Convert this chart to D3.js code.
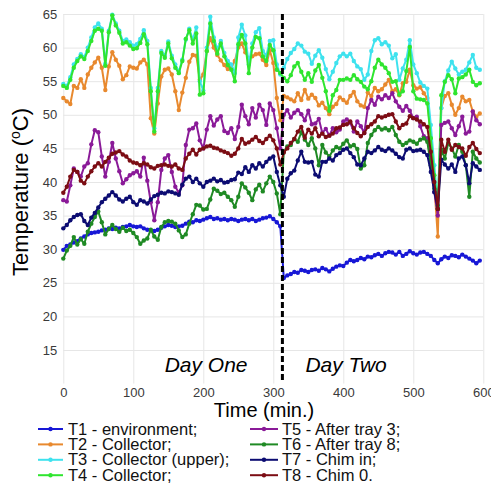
<!DOCTYPE html>
<html>
<head>
<meta charset="utf-8">
<script src="https://cdn.jsdelivr.net/npm/d3@7"></script>
<style>
  html, body { margin: 0; padding: 0; background: #fff; }
  svg { display: block; font-family: "Liberation Sans", Arial, sans-serif; }
</style>
</head>
<body>
<div id="chart"></div>
<script>
// time in minutes (day one 0-310, day two 315-595)
var timeMin = [
  0,5,10,15,20,25,30,35,40,45,50,55,60,65,70,75,80,85,90,95,
  100,105,110,115,120,125,130,135,140,145,150,155,160,165,170,175,180,185,190,195,
  200,205,210,215,220,225,230,235,240,245,250,255,260,265,270,275,280,285,290,295,
  300,305,310,
  315,320,325,330,335,340,345,350,355,360,365,370,375,380,385,390,395,
  400,405,410,415,420,425,430,435,440,445,450,455,460,465,470,475,480,485,490,495,
  500,505,510,515,520,525,530,535,540,545,550,555,560,565,570,575,580,585,590,595
];

var t1 = [
  29.9,30.5,30.7,31.0,31.2,31.6,31.9,32.2,32.4,32.5,32.6,32.8,32.9,33.1,33.0,33.2,33.1,33.3,33.4,33.6,
  33.4,33.3,33.4,33.1,32.9,32.8,32.7,32.9,33.2,33.4,33.6,33.5,33.3,33.4,33.5,33.8,34.1,34.0,34.3,34.2,
  34.4,34.6,34.8,34.5,34.6,34.4,34.5,34.3,34.5,34.4,34.2,34.4,34.5,34.3,34.5,34.2,34.4,34.6,34.7,34.9,
  34.5,34.0,33.4,
  25.7,26.1,26.3,26.6,26.5,26.9,26.8,26.6,26.9,27.0,26.8,27.2,27.0,26.7,27.1,27.4,27.6,27.5,28.0,28.4,
  28.2,28.4,28.7,28.5,28.9,28.8,29.1,29.3,29.0,29.4,29.6,29.5,29.2,29.6,29.0,29.3,29.7,29.4,29.2,29.5,
  29.6,29.3,29.0,28.4,27.9,28.5,28.9,28.7,29.1,29.0,28.8,29.2,28.9,28.6,28.3,27.9,28.3
];
var t2 = [
  52.5,52.0,51.6,54.3,54.0,55.3,54.0,56.0,57.0,57.8,58.5,57.0,53.7,57.2,59.3,58.2,57.3,55.3,55.9,57.2,
  57.0,56.9,57.8,58.2,57.5,49.5,47.2,51.7,55.7,56.7,56.9,56.0,53.5,50.7,53.3,55.5,57.9,58.9,58.8,55.2,
  56.0,59.5,61.4,60.0,58.9,58.1,57.4,56.8,57.0,58.0,60.0,60.6,59.3,58.4,58.7,59.0,59.1,58.2,57.4,59.6,
  57.7,52.5,49.2,
  52.8,52.6,52.3,52.0,53.2,52.2,53.7,52.4,53.0,52.5,51.4,51.8,51.0,50.1,51.2,51.6,52.6,52.2,51.8,52.8,
  53.4,52.0,51.4,51.2,53.3,52.8,54.0,53.5,53.8,54.5,55.2,53.5,53.8,52.9,54.7,54.9,56.7,54.4,53.9,54.1,
  53.2,52.5,46.5,39.5,31.9,51.0,52.8,53.2,51.5,50.0,51.0,52.7,52.0,52.2,50.5,49.7,50.2
];
var t3 = [
  54.6,54.3,55.6,57.5,58.3,59.0,58.6,60.0,61.5,63.0,63.6,62.8,57.6,62.5,64.9,63.6,62.5,61.0,61.2,60.8,
  60.3,60.5,61.3,62.6,61.0,54.0,48.0,54.0,59.5,58.8,60.9,58.8,57.5,56.4,58.2,61.2,62.8,61.2,63.0,55.0,
  53.6,60.0,64.6,61.5,59.8,61.0,59.2,58.0,57.5,56.2,61.5,63.4,61.8,57.5,60.6,62.3,62.9,59.5,58.8,61.0,
  61.1,57.5,56.0,
  57.0,58.3,59.2,59.8,60.6,60.3,59.4,59.1,57.6,58.8,59.6,58.5,56.8,55.3,56.4,57.7,58.7,59.1,58.7,59.1,
  58.0,57.2,56.8,55.2,56.0,59.5,61.1,61.4,60.5,60.8,60.3,58.4,59.0,55.2,56.9,58.2,61.1,57.5,56.2,54.8,
  54.3,53.9,48.5,42.5,36.5,51.0,55.0,56.6,57.9,56.9,56.0,56.4,56.7,57.8,58.9,57.0,56.7
];
var t4 = [
  54.3,54.0,55.2,57.0,58.0,58.7,58.3,59.5,61.0,62.5,62.8,62.5,57.3,62.3,64.8,63.3,62.2,60.6,60.8,60.3,
  59.8,59.9,60.7,62.0,60.5,53.5,47.5,53.5,59.2,58.5,60.6,58.4,57.0,56.2,58.0,61.3,62.6,60.6,62.1,53.0,
  53.2,59.5,63.6,61.0,59.1,60.6,58.7,57.4,56.7,55.0,60.5,61.9,60.6,56.2,60.0,61.6,61.4,58.7,58.0,60.4,
  59.6,56.7,56.2,
  55.5,55.0,55.9,57.2,57.7,56.4,55.2,56.2,54.9,56.6,57.4,55.5,53.5,50.6,52.9,53.7,55.2,55.2,55.4,55.2,
  55.9,55.3,54.9,54.2,53.8,55.0,57.0,58.2,57.5,57.0,56.2,54.9,55.0,53.0,53.5,56.5,60.1,53.5,52.4,52.3,
  52.2,51.7,46.5,41.0,36.0,52.9,54.9,55.9,55.3,53.2,55.4,55.6,56.0,56.7,54.9,54.4,54.7
];
var t5 = [
  37.3,37.1,39.5,42.0,41.5,40.8,42.3,42.8,45.6,47.7,47.4,43.8,40.8,43.0,45.8,43.5,41.6,39.8,40.4,41.0,
  41.3,41.6,40.8,43.6,40.2,37.0,34.3,37.0,41.8,43.5,44.0,41.5,39.3,38.4,39.5,45.5,47.8,48.0,48.7,46.2,
  45.0,47.8,49.8,48.4,49.3,49.8,47.6,47.3,48.0,46.4,48.2,51.5,49.8,48.6,51.0,49.6,51.5,50.7,48.5,51.7,
  50.7,48.0,45.0,
  50.0,50.7,49.6,50.3,50.7,50.1,49.2,50.6,48.6,48.7,49.4,47.3,47.9,46.9,48.0,47.4,47.8,49.0,49.3,48.8,
  47.5,49.0,48.3,47.3,51.0,52.2,51.5,52.7,52.3,52.9,52.5,53.2,52.0,51.2,50.6,51.3,50.6,49.5,49.7,48.3,
  46.8,46.5,43.0,38.5,35.0,48.5,48.8,49.0,48.0,47.0,48.3,49.7,47.2,47.5,50.5,49.2,48.6
];
var t6 = [
  28.6,29.8,30.5,31.8,30.7,31.5,30.8,32.6,33.8,34.8,35.6,34.0,32.2,33.0,33.6,33.0,32.6,33.2,32.7,32.9,
  32.4,31.8,30.8,31.3,31.6,32.9,31.9,31.4,33.3,34.0,34.2,34.1,33.8,32.8,31.8,32.2,33.8,35.2,36.6,36.5,
  35.9,36.0,37.4,39.0,38.7,38.2,38.4,37.8,37.3,36.3,37.8,39.8,39.2,38.4,37.3,38.9,39.6,38.6,39.8,40.8,
  40.0,38.3,35.2,
  44.5,45.3,45.5,46.4,46.0,47.4,46.3,45.5,46.5,45.0,42.5,45.5,44.4,43.8,44.7,45.2,45.0,45.7,46.2,45.3,
  45.5,44.9,42.0,42.5,45.8,47.0,47.7,48.2,47.8,48.0,47.7,48.2,47.0,46.0,45.5,45.8,46.2,46.0,45.7,46.3,
  46.5,46.0,42.5,39.0,36.5,44.8,43.5,45.8,45.0,43.8,45.5,44.5,42.5,37.8,44.5,43.5,42.9
];
var t7 = [
  33.1,33.6,34.3,34.8,35.1,35.2,34.2,33.6,34.7,35.4,36.2,37.0,37.5,38.0,38.5,38.0,37.4,37.1,37.5,37.8,
  37.0,36.6,37.3,37.1,36.8,37.4,37.9,38.1,38.4,38.3,38.6,38.5,38.3,38.1,39.6,40.5,40.8,40.0,40.5,39.8,
  39.3,40.0,40.2,40.5,40.1,40.3,39.9,40.0,40.3,40.4,41.4,41.2,42.2,41.5,42.5,42.0,42.8,42.3,43.0,43.5,
  43.8,41.5,39.5,
  37.8,40.5,41.3,41.7,43.2,44.5,43.0,42.9,43.0,41.1,40.8,43.0,43.0,43.5,43.2,44.0,44.3,44.8,45.0,44.3,
  43.7,42.6,42.5,43.5,44.5,44.3,44.7,45.2,44.8,44.6,45.0,44.7,44.2,43.7,43.5,44.8,45.0,44.6,44.7,44.8,
  44.5,44.0,41.5,38.5,36.0,43.3,42.6,42.0,42.6,41.5,43.5,43.8,42.5,39.8,42.8,42.3,41.8
];
var t8 = [
  38.4,39.3,40.8,41.8,41.5,40.2,39.8,40.8,41.6,42.3,42.8,42.3,43.0,43.6,44.2,44.4,44.6,44.1,43.8,43.2,
  42.9,42.8,42.5,42.8,42.6,42.2,42.0,42.4,42.5,42.6,42.4,42.3,42.6,42.0,41.8,43.5,44.2,44.8,44.1,44.8,
  45.0,45.3,45.4,45.1,45.0,44.7,44.5,44.3,43.9,44.2,45.0,46.4,45.7,45.9,46.3,46.7,46.1,45.8,46.4,46.9,
  46.2,45.0,42.6,
  44.4,45.0,45.8,46.4,47.5,48.2,46.6,47.8,47.2,48.0,46.8,47.2,46.7,46.9,47.2,48.0,48.1,48.5,48.6,49.0,
  48.0,47.3,46.8,47.3,48.2,48.6,49.0,49.8,49.6,49.8,50.0,50.1,49.0,48.0,48.5,48.7,49.8,49.5,49.3,49.0,
  48.6,48.2,44.5,40.0,36.0,46.3,44.5,46.3,44.8,45.5,45.2,45.0,43.9,45.2,45.8,44.9,44.3
];

var seriesNames = [
  "T1 - environment;", "T2 - Collector;", "T3 - Collector (upper);", "T4 - Collector;",
  "T5 - After tray 3;", "T6 - After tray 8;", "T7 - Chim in;", "T8 - Chim 0."
];
var seriesValues = [t1, t2, t3, t4, t5, t6, t7, t8];
var seriesColors = ["#1717d6", "#e8892e", "#3ee2ee", "#2fe52f", "#8a1a98", "#1f8a24", "#0c0c72", "#7c0d14"];

var xTicks = [0, 100, 200, 300, 400, 500, 600];
var yTicks = [15, 20, 25, 30, 35, 40, 45, 50, 55, 60, 65];
var dayBreak = 313;
var dayLabels = [{ text: "Day One", t: 204 }, { text: "Day Two", t: 404 }];

var W = 491, H = 486;
var plotL = 63.3, plotR = 483.3, plotT = 14, plotB = 383.6;

var svg = d3.select("#chart").append("svg")
    .attr("width", W)
    .attr("height", H);

var x = d3.scaleLinear().domain([0, 600]).range([plotL, plotR]);
var y = d3.scaleLinear().domain([10, 65]).range([plotB, plotT]);

// grid + tick labels
var yAxis = svg.append("g")
    .attr("transform", "translate(" + plotL + ",0)")
    .call(d3.axisLeft(y).tickValues(yTicks).tickSize(-(plotR - plotL)).tickPadding(6));
var xAxis = svg.append("g")
    .attr("transform", "translate(0," + plotB + ")")
    .call(d3.axisBottom(x).tickValues(xTicks).tickSize(-(plotB - plotT)).tickPadding(4));

[xAxis, yAxis].forEach(function(a) {
  a.select(".domain").remove();
  a.selectAll(".tick line").attr("stroke", "#e6e6e6").attr("stroke-width", 1);
  a.selectAll(".tick text")
    .attr("fill", "#3a3a3a")
    .style("font-size", "13px")
    .style("font-family", "Liberation Sans, Arial, sans-serif");
});

// lines
var line = d3.line()
    .x(function(d) { return x(d[0]); })
    .y(function(d) { return y(d[1]); });

var g = svg.append("g");
seriesValues.forEach(function(vals, i) {
  var pts = timeMin.map(function(t, j) { return [t, vals[j]]; });
  g.append("path")
    .datum(pts)
    .attr("d", line)
    .attr("fill", "none")
    .attr("stroke", seriesColors[i])
    .attr("stroke-width", 2)
    .attr("stroke-linejoin", "round");
  g.selectAll(".dot" + i)
    .data(pts)
    .enter().append("circle")
    .attr("cx", function(d) { return x(d[0]); })
    .attr("cy", function(d) { return y(d[1]); })
    .attr("r", 2.2)
    .attr("fill", seriesColors[i]);
});

// day separator
svg.append("line")
  .attr("x1", x(dayBreak)).attr("x2", x(dayBreak))
  .attr("y1", plotT).attr("y2", plotB - 2)
  .attr("stroke", "#000")
  .attr("stroke-width", 3)
  .attr("stroke-dasharray", "6,3");

svg.selectAll(".day")
  .data(dayLabels)
  .enter().append("text")
  .attr("x", function(d) { return x(d.t); })
  .attr("y", 372)
  .attr("text-anchor", "middle")
  .style("font-size", "21px")
  .style("font-style", "italic")
  .text(function(d) { return d.text; });

// axis titles
svg.append("text")
  .attr("x", 264)
  .attr("y", 417)
  .attr("text-anchor", "middle")
  .style("font-size", "20px")
  .text("Time (min.)");

var yt = svg.append("text")
  .attr("transform", "translate(28,192) rotate(-90)")
  .attr("text-anchor", "middle")
  .style("font-size", "22px");
yt.append("tspan").text("Temperature (");
yt.append("tspan").attr("dy", -8).style("font-size", "14px").text("o");
yt.append("tspan").attr("dy", 8).text("C)");

// legend
var legend = svg.selectAll(".leg")
  .data(seriesNames)
  .enter().append("g")
  .attr("transform", function(d, i) {
    var col = Math.floor(i / 4), row = i % 4;
    return "translate(" + (col ? 250 : 38) + "," + (429 + row * 15.4) + ")";
  });
legend.append("line")
  .attr("x1", 0).attr("x2", function(d, i) { return i < 4 ? 25 : 28; })
  .attr("stroke", function(d, i) { return seriesColors[i]; })
  .attr("stroke-width", 2);
legend.append("circle")
  .attr("cx", function(d, i) { return i < 4 ? 12.5 : 14; })
  .attr("r", 2.2)
  .attr("fill", function(d, i) { return seriesColors[i]; });
legend.append("text")
  .attr("x", function(d, i) { return i < 4 ? 30 : 32; })
  .attr("y", 5.5)
  .style("font-size", "16.5px")
  .attr("fill", "#111")
  .text(function(d) { return d; });
</script>
</body>
</html>
